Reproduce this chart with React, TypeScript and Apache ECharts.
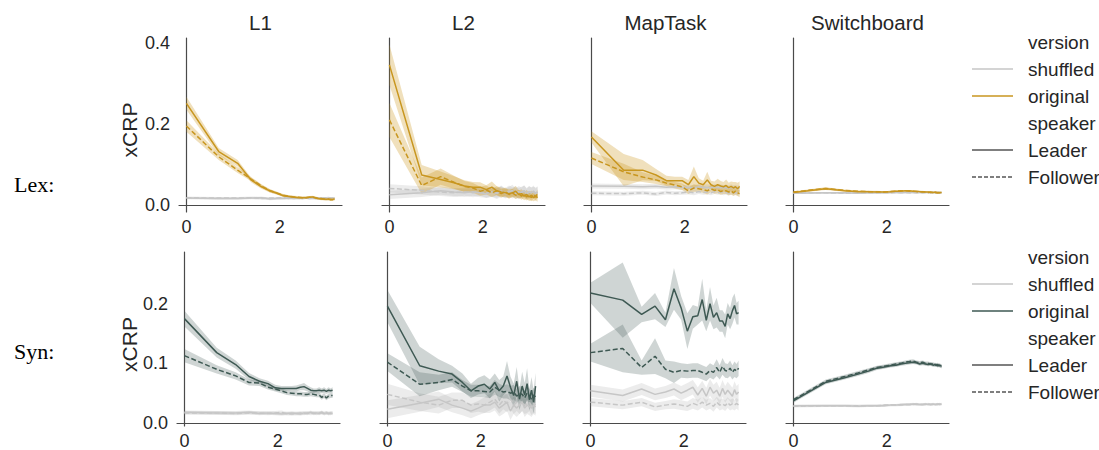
import React, { useEffect, useRef } from "react";
import * as echarts from "echarts";

// ---------- data ----------
// x positions: log of lag distance (1..24)
const X_LOG = [0, 0.693, 1.099, 1.386, 1.609, 1.792, 1.946, 2.079, 2.197, 2.303, 2.398, 2.485, 2.565, 2.639, 2.708, 2.773, 2.833, 2.89, 2.944, 2.996, 3.045, 3.091, 3.135, 3.178];

const ROW_LABELS = ["Lex:", "Syn:"];
const PANEL_TITLES = ["L1", "L2", "MapTask", "Switchboard"];
const Y_LABEL = "xCRP";
const X_TICKS = [0, 2];
const Y_TICKS_LEX = [0, 0.2, 0.4];
const Y_TICKS_SYN = [0, 0.1, 0.2];
const LEGEND_VERSION_TITLE = "version";
const LEGEND_VERSION = ["shuffled", "original"];
const LEGEND_SPEAKER_TITLE = "speaker";
const LEGEND_SPEAKER = ["Leader", "Follower"];

// ---- Lex / L1
const lexL1OrigLead = [0.251, 0.132, 0.103, 0.062, 0.045, 0.035, 0.029, 0.023, 0.021, 0.019, 0.018, 0.018, 0.018, 0.019, 0.02, 0.018, 0.016, 0.015, 0.015, 0.014, 0.015, 0.013, 0.014, 0.015];
const lexL1OrigLeadCI = [0.016, 0.009, 0.008, 0.006, 0.005, 0.004, 0.004, 0.003, 0.003, 0.003, 0.003, 0.003, 0.003, 0.003, 0.003, 0.003, 0.003, 0.003, 0.003, 0.003, 0.003, 0.003, 0.003, 0.003];
const lexL1OrigFoll = [0.195, 0.119, 0.086, 0.064, 0.047, 0.035, 0.029, 0.024, 0.021, 0.02, 0.019, 0.018, 0.018, 0.019, 0.019, 0.017, 0.016, 0.016, 0.015, 0.014, 0.014, 0.014, 0.013, 0.015];
const lexL1OrigFollCI = [0.014, 0.008, 0.007, 0.005, 0.004, 0.004, 0.003, 0.003, 0.003, 0.003, 0.003, 0.003, 0.003, 0.003, 0.003, 0.003, 0.003, 0.003, 0.003, 0.003, 0.003, 0.003, 0.003, 0.003];
const lexL1ShufLead = [0.017, 0.016, 0.016, 0.017, 0.018, 0.015, 0.016, 0.016, 0.017, 0.016, 0.017, 0.016, 0.017, 0.016, 0.017, 0.016, 0.017, 0.016, 0.017, 0.017, 0.016, 0.017, 0.016, 0.017];
const lexL1ShufLeadCI = [0.003, 0.003, 0.003, 0.003, 0.003, 0.003, 0.003, 0.003, 0.003, 0.003, 0.003, 0.003, 0.003, 0.003, 0.003, 0.003, 0.003, 0.003, 0.003, 0.003, 0.003, 0.003, 0.003, 0.003];
const lexL1ShufFoll = [0.018, 0.017, 0.017, 0.018, 0.016, 0.017, 0.017, 0.018, 0.016, 0.017, 0.016, 0.017, 0.018, 0.017, 0.016, 0.017, 0.016, 0.017, 0.016, 0.017, 0.018, 0.016, 0.017, 0.016];
const lexL1ShufFollCI = [0.003, 0.003, 0.003, 0.003, 0.003, 0.003, 0.003, 0.003, 0.003, 0.003, 0.003, 0.003, 0.003, 0.003, 0.003, 0.003, 0.003, 0.003, 0.003, 0.003, 0.003, 0.003, 0.003, 0.003];

// ---- Lex / L2
const lexL2OrigLead = [0.346, 0.074, 0.063, 0.055, 0.047, 0.044, 0.044, 0.038, 0.044, 0.035, 0.032, 0.03, 0.028, 0.03, 0.034, 0.026, 0.028, 0.022, 0.026, 0.02, 0.024, 0.018, 0.022, 0.018];
const lexL2OrigLeadCI = [0.05, 0.025, 0.02, 0.016, 0.014, 0.013, 0.012, 0.011, 0.014, 0.011, 0.011, 0.01, 0.012, 0.01, 0.013, 0.01, 0.011, 0.01, 0.011, 0.01, 0.012, 0.009, 0.011, 0.01];
const lexL2OrigFoll = [0.21, 0.048, 0.07, 0.056, 0.046, 0.042, 0.034, 0.037, 0.03, 0.035, 0.028, 0.033, 0.026, 0.03, 0.024, 0.028, 0.022, 0.027, 0.02, 0.025, 0.018, 0.026, 0.02, 0.028];
const lexL2OrigFollCI = [0.042, 0.02, 0.02, 0.016, 0.013, 0.012, 0.011, 0.011, 0.01, 0.011, 0.01, 0.01, 0.01, 0.01, 0.009, 0.01, 0.009, 0.01, 0.009, 0.01, 0.009, 0.01, 0.009, 0.01];
const lexL2ShufLead = [0.025, 0.03, 0.035, 0.032, 0.03, 0.033, 0.03, 0.028, 0.033, 0.03, 0.035, 0.028, 0.032, 0.036, 0.028, 0.033, 0.03, 0.035, 0.027, 0.032, 0.03, 0.034, 0.028, 0.031];
const lexL2ShufLeadCI = [0.01, 0.01, 0.01, 0.01, 0.01, 0.01, 0.011, 0.011, 0.012, 0.012, 0.013, 0.012, 0.013, 0.014, 0.013, 0.014, 0.013, 0.014, 0.013, 0.014, 0.013, 0.014, 0.013, 0.014];
const lexL2ShufFoll = [0.041, 0.036, 0.032, 0.03, 0.033, 0.03, 0.034, 0.03, 0.032, 0.028, 0.033, 0.03, 0.035, 0.03, 0.033, 0.028, 0.032, 0.034, 0.029, 0.033, 0.03, 0.031, 0.03, 0.032];
const lexL2ShufFollCI = [0.01, 0.01, 0.01, 0.01, 0.01, 0.011, 0.011, 0.012, 0.012, 0.013, 0.013, 0.012, 0.013, 0.014, 0.013, 0.014, 0.013, 0.014, 0.013, 0.014, 0.013, 0.014, 0.013, 0.014];

// ---- Lex / MapTask
const lexMTOrigLead = [0.168, 0.086, 0.086, 0.074, 0.06, 0.06, 0.06, 0.05, 0.07, 0.054, 0.05, 0.062, 0.05, 0.046, 0.05, 0.047, 0.045, 0.048, 0.043, 0.046, 0.042, 0.045, 0.04, 0.046];
const lexMTOrigLeadCI = [0.014, 0.04, 0.025, 0.015, 0.012, 0.01, 0.01, 0.012, 0.025, 0.012, 0.01, 0.02, 0.01, 0.012, 0.015, 0.012, 0.012, 0.015, 0.012, 0.012, 0.015, 0.012, 0.015, 0.012];
const lexMTOrigFoll = [0.116, 0.082, 0.069, 0.062, 0.054, 0.049, 0.045, 0.035, 0.042, 0.04, 0.038, 0.035, 0.04, 0.036, 0.038, 0.033, 0.036, 0.035, 0.032, 0.035, 0.03, 0.034, 0.03, 0.028];
const lexMTOrigFollCI = [0.015, 0.02, 0.012, 0.01, 0.008, 0.008, 0.008, 0.008, 0.009, 0.008, 0.008, 0.009, 0.008, 0.008, 0.009, 0.008, 0.009, 0.008, 0.008, 0.009, 0.008, 0.009, 0.008, 0.009];
const lexMTShufLead = [0.047, 0.046, 0.045, 0.046, 0.044, 0.045, 0.043, 0.044, 0.042, 0.045, 0.043, 0.044, 0.042, 0.045, 0.043, 0.044, 0.042, 0.043, 0.041, 0.044, 0.042, 0.043, 0.041, 0.042];
const lexMTShufLeadCI = [0.006, 0.006, 0.006, 0.006, 0.006, 0.006, 0.006, 0.006, 0.007, 0.007, 0.007, 0.007, 0.007, 0.007, 0.007, 0.007, 0.007, 0.007, 0.007, 0.007, 0.007, 0.007, 0.007, 0.007];
const lexMTShufFoll = [0.029, 0.028, 0.03, 0.027, 0.031, 0.029, 0.03, 0.032, 0.03, 0.033, 0.031, 0.032, 0.03, 0.033, 0.031, 0.032, 0.03, 0.031, 0.029, 0.031, 0.03, 0.03, 0.029, 0.03];
const lexMTShufFollCI = [0.005, 0.005, 0.005, 0.005, 0.005, 0.005, 0.005, 0.006, 0.006, 0.006, 0.006, 0.006, 0.006, 0.006, 0.006, 0.006, 0.006, 0.006, 0.006, 0.006, 0.006, 0.006, 0.006, 0.006];

// ---- Lex / Switchboard
const lexSBOrigLead = [0.031, 0.04, 0.035, 0.033, 0.033, 0.032, 0.032, 0.033, 0.034, 0.034, 0.035, 0.035, 0.034, 0.034, 0.033, 0.033, 0.032, 0.032, 0.031, 0.031, 0.032, 0.03, 0.031, 0.031];
const lexSBOrigLeadCI = [0.002, 0.003, 0.002, 0.002, 0.002, 0.002, 0.002, 0.002, 0.002, 0.002, 0.002, 0.002, 0.002, 0.002, 0.002, 0.002, 0.002, 0.002, 0.002, 0.002, 0.002, 0.002, 0.002, 0.002];
const lexSBOrigFoll = [0.032, 0.041, 0.036, 0.034, 0.033, 0.033, 0.032, 0.033, 0.034, 0.035, 0.035, 0.034, 0.034, 0.033, 0.033, 0.032, 0.032, 0.031, 0.032, 0.031, 0.03, 0.031, 0.03, 0.031];
const lexSBOrigFollCI = [0.002, 0.003, 0.002, 0.002, 0.002, 0.002, 0.002, 0.002, 0.002, 0.002, 0.002, 0.002, 0.002, 0.002, 0.002, 0.002, 0.002, 0.002, 0.002, 0.002, 0.002, 0.002, 0.002, 0.002];
const lexSBShufLead = [0.029, 0.03, 0.03, 0.029, 0.03, 0.03, 0.03, 0.031, 0.031, 0.03, 0.031, 0.031, 0.031, 0.03, 0.031, 0.031, 0.031, 0.031, 0.03, 0.031, 0.031, 0.031, 0.03, 0.031];
const lexSBShufLeadCI = [0.002, 0.002, 0.002, 0.002, 0.002, 0.002, 0.002, 0.002, 0.002, 0.002, 0.002, 0.002, 0.002, 0.002, 0.002, 0.002, 0.002, 0.002, 0.002, 0.002, 0.002, 0.002, 0.002, 0.002];
const lexSBShufFoll = [0.03, 0.03, 0.029, 0.03, 0.03, 0.03, 0.031, 0.03, 0.031, 0.031, 0.031, 0.03, 0.031, 0.031, 0.031, 0.03, 0.031, 0.031, 0.031, 0.031, 0.03, 0.031, 0.031, 0.03];
const lexSBShufFollCI = [0.002, 0.002, 0.002, 0.002, 0.002, 0.002, 0.002, 0.002, 0.002, 0.002, 0.002, 0.002, 0.002, 0.002, 0.002, 0.002, 0.002, 0.002, 0.002, 0.002, 0.002, 0.002, 0.002, 0.002];

// ---- Syn / L1
const synL1OrigLead = [0.175, 0.118, 0.098, 0.078, 0.07, 0.066, 0.059, 0.058, 0.058, 0.058, 0.058, 0.06, 0.061, 0.058, 0.055, 0.054, 0.054, 0.055, 0.054, 0.055, 0.053, 0.055, 0.054, 0.055];
const synL1OrigLeadCI = [0.013, 0.008, 0.007, 0.006, 0.005, 0.005, 0.005, 0.004, 0.004, 0.004, 0.005, 0.005, 0.006, 0.005, 0.005, 0.004, 0.004, 0.005, 0.004, 0.005, 0.004, 0.005, 0.004, 0.005];
const synL1OrigFoll = [0.113, 0.09, 0.079, 0.068, 0.067, 0.06, 0.057, 0.054, 0.051, 0.05, 0.049, 0.049, 0.048, 0.048, 0.049, 0.048, 0.047, 0.047, 0.043, 0.046, 0.042, 0.045, 0.046, 0.046];
const synL1OrigFollCI = [0.011, 0.007, 0.006, 0.005, 0.005, 0.004, 0.004, 0.004, 0.004, 0.004, 0.004, 0.004, 0.004, 0.004, 0.004, 0.004, 0.004, 0.004, 0.004, 0.004, 0.004, 0.004, 0.004, 0.004];
const synL1ShufLead = [0.018, 0.017, 0.017, 0.018, 0.016, 0.017, 0.016, 0.015, 0.016, 0.017, 0.016, 0.015, 0.017, 0.016, 0.018, 0.016, 0.017, 0.016, 0.018, 0.016, 0.017, 0.016, 0.017, 0.016];
const synL1ShufLeadCI = [0.003, 0.003, 0.003, 0.003, 0.003, 0.003, 0.003, 0.003, 0.003, 0.003, 0.003, 0.003, 0.003, 0.003, 0.003, 0.003, 0.003, 0.003, 0.003, 0.003, 0.003, 0.003, 0.003, 0.003];
const synL1ShufFoll = [0.017, 0.017, 0.016, 0.017, 0.017, 0.016, 0.017, 0.018, 0.016, 0.015, 0.016, 0.017, 0.016, 0.017, 0.016, 0.017, 0.016, 0.017, 0.017, 0.016, 0.017, 0.016, 0.016, 0.017];
const synL1ShufFollCI = [0.003, 0.003, 0.003, 0.003, 0.003, 0.003, 0.003, 0.003, 0.003, 0.003, 0.003, 0.003, 0.003, 0.003, 0.003, 0.003, 0.003, 0.003, 0.003, 0.003, 0.003, 0.003, 0.003, 0.003];

// ---- Syn / L2
const synL2OrigLead = [0.196, 0.096, 0.087, 0.082, 0.068, 0.054, 0.062, 0.065, 0.057, 0.068, 0.054, 0.062, 0.079, 0.06, 0.046, 0.07, 0.04, 0.062, 0.047, 0.066, 0.039, 0.055, 0.035, 0.062];
const synL2OrigLeadCI = [0.027, 0.032, 0.02, 0.014, 0.015, 0.012, 0.014, 0.015, 0.016, 0.015, 0.018, 0.016, 0.025, 0.018, 0.02, 0.024, 0.018, 0.024, 0.02, 0.026, 0.018, 0.022, 0.02, 0.022];
const synL2OrigFoll = [0.102, 0.065, 0.068, 0.073, 0.062, 0.054, 0.054, 0.053, 0.052, 0.06, 0.055, 0.052, 0.053, 0.05, 0.052, 0.045, 0.05, 0.048, 0.042, 0.05, 0.045, 0.04, 0.047, 0.044];
const synL2OrigFollCI = [0.015, 0.02, 0.013, 0.012, 0.01, 0.01, 0.01, 0.01, 0.01, 0.012, 0.011, 0.011, 0.012, 0.012, 0.012, 0.012, 0.012, 0.012, 0.012, 0.012, 0.012, 0.012, 0.012, 0.012];
const synL2ShufLead = [0.023, 0.033, 0.04, 0.03, 0.025, 0.02, 0.025, 0.03, 0.03, 0.035, 0.025, 0.03, 0.035, 0.02, 0.03, 0.025, 0.03, 0.035, 0.025, 0.03, 0.028, 0.025, 0.03, 0.027];
const synL2ShufLeadCI = [0.015, 0.014, 0.013, 0.012, 0.012, 0.012, 0.012, 0.013, 0.013, 0.014, 0.014, 0.015, 0.015, 0.015, 0.015, 0.015, 0.015, 0.015, 0.015, 0.015, 0.015, 0.015, 0.015, 0.015];
const synL2ShufFoll = [0.048, 0.035, 0.03, 0.038, 0.038, 0.03, 0.032, 0.03, 0.035, 0.04, 0.03, 0.038, 0.033, 0.04, 0.03, 0.035, 0.03, 0.035, 0.03, 0.032, 0.035, 0.028, 0.033, 0.03];
const synL2ShufFollCI = [0.018, 0.015, 0.014, 0.013, 0.013, 0.013, 0.013, 0.013, 0.014, 0.014, 0.014, 0.015, 0.015, 0.015, 0.015, 0.015, 0.015, 0.015, 0.015, 0.015, 0.015, 0.015, 0.015, 0.015];

// ---- Syn / MapTask
const synMTOrigLead = [0.218, 0.206, 0.182, 0.196, 0.173, 0.225, 0.193, 0.154, 0.178, 0.18, 0.207, 0.172, 0.2, 0.177, 0.185, 0.171, 0.171, 0.162, 0.183, 0.175, 0.188, 0.197, 0.183, 0.185];
const synMTOrigLeadCI = [0.017, 0.063, 0.013, 0.022, 0.012, 0.035, 0.02, 0.03, 0.02, 0.015, 0.035, 0.018, 0.028, 0.02, 0.025, 0.018, 0.018, 0.02, 0.018, 0.018, 0.022, 0.02, 0.018, 0.02];
const synMTOrigFoll = [0.118, 0.125, 0.093, 0.112, 0.09, 0.085, 0.088, 0.087, 0.088, 0.088, 0.085, 0.082, 0.088, 0.085, 0.093, 0.085, 0.095, 0.088, 0.087, 0.092, 0.085, 0.09, 0.087, 0.092];
const synMTOrigFollCI = [0.015, 0.04, 0.012, 0.03, 0.015, 0.018, 0.012, 0.012, 0.012, 0.012, 0.012, 0.012, 0.012, 0.012, 0.014, 0.012, 0.014, 0.012, 0.012, 0.013, 0.012, 0.013, 0.012, 0.013];
const synMTShufLead = [0.054, 0.046, 0.057, 0.048, 0.052, 0.057, 0.05, 0.055, 0.06, 0.047, 0.058, 0.045, 0.06, 0.05, 0.055, 0.045, 0.058, 0.048, 0.055, 0.05, 0.045, 0.056, 0.048, 0.052];
const synMTShufLeadCI = [0.01, 0.01, 0.01, 0.01, 0.01, 0.011, 0.012, 0.012, 0.012, 0.013, 0.013, 0.014, 0.014, 0.014, 0.014, 0.014, 0.014, 0.014, 0.014, 0.014, 0.014, 0.014, 0.014, 0.014];
const synMTShufFoll = [0.035, 0.03, 0.035, 0.027, 0.03, 0.032, 0.03, 0.028, 0.033, 0.03, 0.035, 0.03, 0.033, 0.028, 0.035, 0.03, 0.032, 0.029, 0.034, 0.03, 0.032, 0.03, 0.033, 0.03];
const synMTShufFollCI = [0.007, 0.007, 0.007, 0.007, 0.007, 0.008, 0.008, 0.008, 0.009, 0.009, 0.009, 0.009, 0.009, 0.009, 0.009, 0.009, 0.009, 0.009, 0.009, 0.009, 0.009, 0.009, 0.009, 0.009];

// ---- Syn / Switchboard
const synSBOrigLead = [0.037, 0.068, 0.076, 0.082, 0.087, 0.092, 0.094, 0.096, 0.097, 0.099, 0.1, 0.101, 0.102, 0.101, 0.099, 0.1, 0.099, 0.098, 0.099, 0.097, 0.098, 0.096, 0.097, 0.095];
const synSBOrigLeadCI = [0.003, 0.003, 0.003, 0.003, 0.003, 0.003, 0.003, 0.003, 0.003, 0.003, 0.003, 0.003, 0.003, 0.003, 0.003, 0.003, 0.003, 0.003, 0.003, 0.003, 0.003, 0.003, 0.003, 0.003];
const synSBOrigFoll = [0.039, 0.07, 0.078, 0.084, 0.089, 0.093, 0.095, 0.097, 0.099, 0.1, 0.102, 0.103, 0.104, 0.102, 0.101, 0.102, 0.1, 0.1, 0.099, 0.099, 0.097, 0.098, 0.096, 0.095];
const synSBOrigFollCI = [0.003, 0.003, 0.003, 0.003, 0.003, 0.003, 0.003, 0.003, 0.003, 0.003, 0.003, 0.003, 0.003, 0.003, 0.003, 0.003, 0.003, 0.003, 0.003, 0.003, 0.003, 0.003, 0.003, 0.003];
const synSBShufLead = [0.029, 0.029, 0.029, 0.028, 0.029, 0.029, 0.029, 0.03, 0.03, 0.031, 0.031, 0.031, 0.032, 0.031, 0.031, 0.031, 0.032, 0.031, 0.031, 0.032, 0.031, 0.032, 0.031, 0.032];
const synSBShufLeadCI = [0.002, 0.002, 0.002, 0.002, 0.002, 0.002, 0.002, 0.002, 0.002, 0.002, 0.002, 0.002, 0.002, 0.002, 0.002, 0.002, 0.002, 0.002, 0.002, 0.002, 0.002, 0.002, 0.002, 0.002];
const synSBShufFoll = [0.028, 0.029, 0.029, 0.029, 0.029, 0.029, 0.03, 0.03, 0.03, 0.03, 0.031, 0.031, 0.031, 0.032, 0.031, 0.031, 0.031, 0.032, 0.031, 0.031, 0.031, 0.031, 0.032, 0.031];
const synSBShufFollCI = [0.002, 0.002, 0.002, 0.002, 0.002, 0.002, 0.002, 0.002, 0.002, 0.002, 0.002, 0.002, 0.002, 0.002, 0.002, 0.002, 0.002, 0.002, 0.002, 0.002, 0.002, 0.002, 0.002, 0.002];

// ---------- styling / layout ----------
const FONT = "'Liberation Sans', Arial, Helvetica, sans-serif";
const SERIF = "'Liberation Serif', 'Times New Roman', serif";
const TEXT = "#262626";
const AXIS = "#4a4a4a";
const SHUF_LINE = "#c6c6c6";
const SHUF_BAND = "rgba(160,160,160,0.2)";
const ROW_LINE = ["#c8961f", "#3e5953"];
const ROW_BAND = ["rgba(204,153,34,0.3)", "rgba(62,89,83,0.25)"];

const GRID_LEFT = [
  [179, 382, 584, 786],
  [177, 380, 583, 786],
];
const GRID_TOP = [38, 252];
const GRID_H = [174, 175];
const GRID_W = 163;
const X_MIN = -0.159;
const X_MAX = 3.337;
const Y_RANGE = [
  [-0.0173, 0.4123],
  [-0.005, 0.2867],
];

type Panel = {
  row: number;
  col: number;
  oL: number[]; oLc: number[]; oF: number[]; oFc: number[];
  sL: number[]; sLc: number[]; sF: number[]; sFc: number[];
};

const PANELS: Panel[] = [
  { row: 0, col: 0, oL: lexL1OrigLead, oLc: lexL1OrigLeadCI, oF: lexL1OrigFoll, oFc: lexL1OrigFollCI, sL: lexL1ShufLead, sLc: lexL1ShufLeadCI, sF: lexL1ShufFoll, sFc: lexL1ShufFollCI },
  { row: 0, col: 1, oL: lexL2OrigLead, oLc: lexL2OrigLeadCI, oF: lexL2OrigFoll, oFc: lexL2OrigFollCI, sL: lexL2ShufLead, sLc: lexL2ShufLeadCI, sF: lexL2ShufFoll, sFc: lexL2ShufFollCI },
  { row: 0, col: 2, oL: lexMTOrigLead, oLc: lexMTOrigLeadCI, oF: lexMTOrigFoll, oFc: lexMTOrigFollCI, sL: lexMTShufLead, sLc: lexMTShufLeadCI, sF: lexMTShufFoll, sFc: lexMTShufFollCI },
  { row: 0, col: 3, oL: lexSBOrigLead, oLc: lexSBOrigLeadCI, oF: lexSBOrigFoll, oFc: lexSBOrigFollCI, sL: lexSBShufLead, sLc: lexSBShufLeadCI, sF: lexSBShufFoll, sFc: lexSBShufFollCI },
  { row: 1, col: 0, oL: synL1OrigLead, oLc: synL1OrigLeadCI, oF: synL1OrigFoll, oFc: synL1OrigFollCI, sL: synL1ShufLead, sLc: synL1ShufLeadCI, sF: synL1ShufFoll, sFc: synL1ShufFollCI },
  { row: 1, col: 1, oL: synL2OrigLead, oLc: synL2OrigLeadCI, oF: synL2OrigFoll, oFc: synL2OrigFollCI, sL: synL2ShufLead, sLc: synL2ShufLeadCI, sF: synL2ShufFoll, sFc: synL2ShufFollCI },
  { row: 1, col: 2, oL: synMTOrigLead, oLc: synMTOrigLeadCI, oF: synMTOrigFoll, oFc: synMTOrigFollCI, sL: synMTShufLead, sLc: synMTShufLeadCI, sF: synMTShufFoll, sFc: synMTShufFollCI },
  { row: 1, col: 3, oL: synSBOrigLead, oLc: synSBOrigLeadCI, oF: synSBOrigFoll, oFc: synSBOrigFollCI, sL: synSBShufLead, sLc: synSBShufLeadCI, sF: synSBShufFoll, sFc: synSBShufFollCI },
];

function bandSeries(g: number, mean: number[], ci: number[], color: string, z: number) {
  return {
    type: "custom",
    xAxisIndex: g,
    yAxisIndex: g,
    silent: true,
    z,
    data: X_LOG.map((x, i) => [x, mean[i] - ci[i], mean[i] + ci[i]]),
    encode: { x: 0, y: [1, 2] },
    renderItem: (params: any, api: any) => {
      if (params.dataIndex !== 0) return null;
      const upper: number[][] = [];
      const lower: number[][] = [];
      for (let i = 0; i < X_LOG.length; i++) {
        upper.push(api.coord([X_LOG[i], mean[i] + ci[i]]));
        lower.push(api.coord([X_LOG[i], mean[i] - ci[i]]));
      }
      return {
        type: "polygon",
        shape: { points: upper.concat(lower.reverse()) },
        style: { fill: color, stroke: "none" },
      };
    },
  };
}

function lineSeries(g: number, vals: number[], color: string, dashed: boolean, z: number) {
  return {
    type: "line",
    xAxisIndex: g,
    yAxisIndex: g,
    silent: true,
    z,
    symbol: "none",
    showSymbol: false,
    data: X_LOG.map((x, i) => [x, vals[i]]),
    lineStyle: { color, width: 1.5, type: dashed ? [5, 2.5] : "solid" },
  };
}

function near(v: number, list: number[]) {
  return list.some((t) => Math.abs(v - t) < 1e-6);
}

function buildOption() {
  const grid: any[] = [];
  const xAxis: any[] = [];
  const yAxis: any[] = [];
  const series: any[] = [];
  PANELS.forEach((p, g) => {
    grid.push({ left: GRID_LEFT[p.row][p.col], top: GRID_TOP[p.row], width: GRID_W, height: GRID_H[p.row] });
    xAxis.push({
      gridIndex: g,
      type: "value",
      min: X_MIN,
      max: X_MAX,
      axisLine: { show: true, lineStyle: { color: AXIS, width: 1.2 } },
      axisTick: { show: false },
      splitLine: { show: false },
      axisLabel: {
        customValues: X_TICKS,
        formatter: (v: number) => (near(v, X_TICKS) ? String(Math.round(v)) : ""),
        fontSize: 18,
        fontFamily: FONT,
        color: TEXT,
        margin: 6,
        showMinLabel: true,
        showMaxLabel: true,
      },
    });
    const yt = p.row === 0 ? Y_TICKS_LEX : Y_TICKS_SYN;
    yAxis.push({
      gridIndex: g,
      type: "value",
      min: Y_RANGE[p.row][0],
      max: Y_RANGE[p.row][1],
      axisLine: { show: true, lineStyle: { color: AXIS, width: 1.2 } },
      axisTick: { show: false },
      splitLine: { show: false },
      axisLabel: {
        show: p.col === 0,
        customValues: yt,
        formatter: (v: number) => (near(v, yt) ? v.toFixed(1) : ""),
        fontSize: 18,
        fontFamily: FONT,
        color: TEXT,
        margin: 9,
      },
    });
    const oc = ROW_LINE[p.row];
    const ob = ROW_BAND[p.row];
    series.push(bandSeries(g, p.sL, p.sLc, SHUF_BAND, 1));
    series.push(bandSeries(g, p.sF, p.sFc, SHUF_BAND, 1));
    series.push(bandSeries(g, p.oL, p.oLc, ob, 2));
    series.push(bandSeries(g, p.oF, p.oFc, ob, 2));
    series.push(lineSeries(g, p.sL, SHUF_LINE, false, 3));
    series.push(lineSeries(g, p.sF, SHUF_LINE, true, 3));
    series.push(lineSeries(g, p.oL, oc, false, 4));
    series.push(lineSeries(g, p.oF, oc, true, 4));
  });

  const graphic: any[] = [];
  // titles
  PANEL_TITLES.forEach((t, c) => {
    graphic.push({
      type: "text",
      x: GRID_LEFT[0][c] + GRID_W / 2,
      y: 22,
      style: { text: t, fontSize: 20.5, fontFamily: FONT, fill: TEXT, align: "center", verticalAlign: "middle" },
    });
  });
  // row labels and y labels
  const rowLabelY = [184, 351];
  ROW_LABELS.forEach((t, r) => {
    graphic.push({
      type: "text",
      x: 14,
      y: rowLabelY[r],
      style: { text: t, fontSize: 22, fontFamily: SERIF, fill: "#000", align: "left", verticalAlign: "middle" },
    });
    graphic.push({
      type: "text",
      x: 129,
      y: GRID_TOP[r] + GRID_H[r] / 2 + 5,
      rotation: Math.PI / 2,
      style: { text: Y_LABEL, fontSize: 21, fontFamily: FONT, fill: TEXT, align: "center", verticalAlign: "middle" },
    });
  });
  // legends
  const legendTop = [42, 257];
  const step = 27;
  [0, 1].forEach((r) => {
    const y0 = legendTop[r];
    const entries: { label: string; color?: string; dashed?: boolean }[] = [
      { label: LEGEND_VERSION_TITLE },
      { label: LEGEND_VERSION[0], color: SHUF_LINE },
      { label: LEGEND_VERSION[1], color: ROW_LINE[r] },
      { label: LEGEND_SPEAKER_TITLE },
      { label: LEGEND_SPEAKER[0], color: "#555555" },
      { label: LEGEND_SPEAKER[1], color: "#555555", dashed: true },
    ];
    entries.forEach((e, i) => {
      const y = y0 + i * step;
      if (e.color) {
        graphic.push({
          type: "line",
          shape: { x1: 972, y1: y, x2: 1013, y2: y },
          style: { stroke: e.color, lineWidth: 1.5, lineDash: e.dashed ? [4, 2] : null },
        });
      }
      graphic.push({
        type: "text",
        x: 1028,
        y,
        style: { text: e.label, fontSize: 19, fontFamily: FONT, fill: TEXT, align: "left", verticalAlign: "middle" },
      });
    });
  });

  return {
    animation: false,
    backgroundColor: "#ffffff",
    grid,
    xAxis,
    yAxis,
    series,
    graphic,
  };
}

export default function App() {
  const ref = useRef<HTMLDivElement>(null);
  useEffect(() => {
    if (!ref.current) return;
    const chart = echarts.init(ref.current, null, { renderer: "svg" });
    chart.setOption(buildOption() as any);
    return () => chart.dispose();
  }, []);
  return (
    <div
      ref={ref}
      style={{ position: "fixed", left: 0, top: 0, width: "1099px", height: "450px", background: "#fff" }}
    />
  );
}
